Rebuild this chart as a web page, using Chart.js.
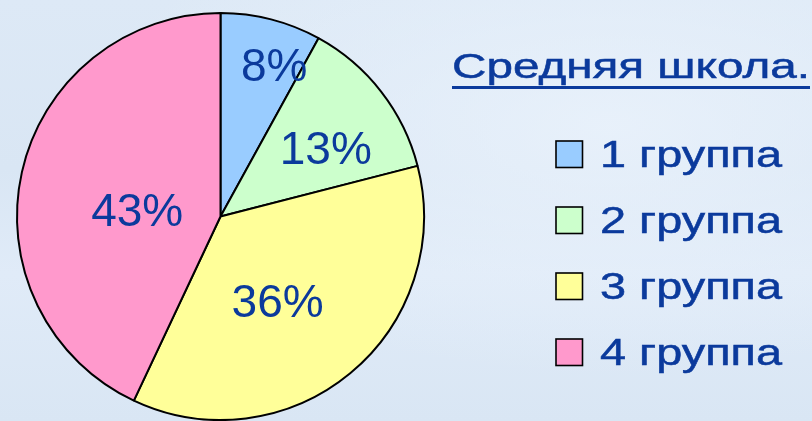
<!DOCTYPE html>
<html><head><meta charset="utf-8">
<script src="https://cdn.jsdelivr.net/npm/chart.js@4/dist/chart.umd.min.js"></script>
<style>
html,body{margin:0;padding:0;width:812px;height:421px;overflow:hidden;}
body{
  background:
    radial-gradient(ellipse at 75% 30%, rgba(235,243,252,0.8) 0%, rgba(235,243,252,0) 60%),
    linear-gradient(180deg, #dde9f6 0%, #d9e6f4 40%, #e0ebf8 65%, #d9e6f4 100%);
}
#wrap{position:relative;width:812px;height:421px;}
canvas{display:block}
</style></head><body>
<div id="wrap"><canvas id="c" width="812" height="421"></canvas></div>
<script>
const categories = ['1 группа', '2 группа', '3 группа', '4 группа'];
const values = [8, 13, 36, 43];
const percentLabels = ['8%', '13%', '36%', '43%'];
const chartTitle = 'Средняя школа.';

const sliceColors = ['#99ccff', '#ccffcc', '#ffff99', '#ff99cc'];
const textColor = '#0b3a9c';
const labelRadiusFrac = [0.78, 0.61, 0.51, 0.41];
const labelAngleShiftDeg = [5.4, 5.8, 6.2, -9.8];

const pieLabels = {
  id: 'pieLabels',
  afterDatasetsDraw(chart) {
    const ctx = chart.ctx;
    const meta = chart.getDatasetMeta(0);
    ctx.save();
    ctx.font = '46px "Liberation Sans", Arial, sans-serif';
    ctx.fillStyle = textColor;
    ctx.textAlign = 'center';
    ctx.textBaseline = 'middle';
    meta.data.forEach((arc, i) => {
      const p = arc.getProps(['x','y','startAngle','endAngle','outerRadius'], true);
      const mid = (p.startAngle + p.endAngle) / 2 + labelAngleShiftDeg[i] * Math.PI / 180;
      const r = p.outerRadius * labelRadiusFrac[i];
      ctx.fillText(percentLabels[i], p.x + Math.cos(mid) * r, p.y + Math.sin(mid) * r + 1);
    });
    ctx.restore();
  }
};

function stretchedText(ctx, text, x, y, sx) {
  ctx.save();
  ctx.translate(x, y);
  ctx.scale(sx, 1);
  ctx.fillText(text, 0, 0);
  ctx.lineWidth = 0.5;
  ctx.strokeStyle = ctx.fillStyle;
  ctx.strokeText(text, 0, 0);
  ctx.restore();
  return ctx.measureText(text).width * sx;
}

const sideLegend = {
  id: 'sideLegend',
  afterDraw(chart) {
    const ctx = chart.ctx;
    ctx.save();
    ctx.fillStyle = textColor;
    ctx.textBaseline = 'alphabetic';
    ctx.textAlign = 'left';
    ctx.font = '35px "Liberation Sans", Arial, sans-serif';
    const tx = 452, tb = 78;
    const titleSx = 358 / ctx.measureText(chartTitle).width;
    const tw = stretchedText(ctx, chartTitle, tx, tb, titleSx);
    ctx.fillRect(tx, tb + 8, tw, 3);
    ctx.font = '37px "Liberation Sans", Arial, sans-serif';
    const itemSx = 182 / ctx.measureText(categories[0]).width;
    const boxTop = 141, step = 66, box = 26.5;
    categories.forEach((name, i) => {
      const y0 = boxTop + i * step;
      ctx.fillStyle = sliceColors[i];
      ctx.fillRect(556, y0, box, box);
      ctx.strokeStyle = '#000';
      ctx.lineWidth = 1.6;
      ctx.strokeRect(556, y0, box, box);
      ctx.fillStyle = textColor;
      stretchedText(ctx, name, 600, y0 + box - 0.5, itemSx);
    });
    ctx.restore();
  }
};

new Chart(document.getElementById('c'), {
  type: 'pie',
  data: {
    labels: categories,
    datasets: [{
      data: values,
      backgroundColor: sliceColors,
      borderColor: '#000',
      borderWidth: 2
    }]
  },
  options: {
    responsive: false,
    animation: false,
    layout: { padding: { left: 16, top: 12, right: 387, bottom: 0 } },
    plugins: { legend: { display: false }, tooltip: { enabled: false }, title: { display: false } }
  },
  plugins: [pieLabels, sideLegend]
});
</script>
</body></html>
